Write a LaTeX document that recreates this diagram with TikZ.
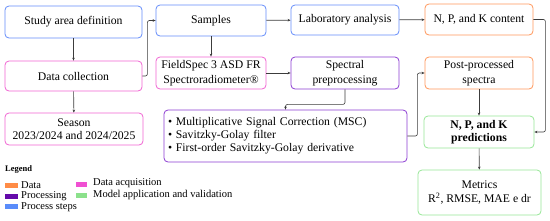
\documentclass[tikz,border=0pt]{standalone}
\usepackage{fontspec}
\setmainfont{Liberation Serif}
\usetikzlibrary{arrows.meta}
\definecolor{cblue}{RGB}{100,140,250}
\definecolor{cpink}{RGB}{240,100,210}
\definecolor{cpurple}{RGB}{140,60,210}
\definecolor{corange}{RGB}{255,150,90}
\definecolor{cgreen}{RGB}{150,230,150}
\definecolor{lorange}{RGB}{255,140,70}
\definecolor{lpurple}{RGB}{100,10,170}
\definecolor{lblue}{RGB}{90,140,250}
\definecolor{lpink}{RGB}{240,80,210}
\definecolor{lgreen}{RGB}{140,225,140}
\definecolor{cline}{RGB}{60,60,60}
\tikzset{
  box/.style={draw, rounded corners=4pt, line width=0.8pt, align=center, inner sep=1pt, font=\fontsize{11.7}{13}\selectfont},
  wide/.style={font=\fontsize{11.7}{15}\selectfont},
  arr/.style={draw=cline, line width=0.6pt, -{Stealth[length=3pt,width=2.6pt]}, rounded corners=2pt},
  legtext/.style={anchor=west, inner sep=0pt, font=\fontsize{10.5}{11}\selectfont},
}
\begin{document}
\begin{tikzpicture}[x=1pt,y=-1pt]
\useasboundingbox (0,0) rectangle (550,220);
% nodes
\node[box, draw=cblue, minimum width=137pt, minimum height=32pt] (study) at (73.5,22) {Study area definition};
\node[box, draw=cpink, minimum width=137pt, minimum height=30pt] (dc) at (73.5,76) {Data collection};
\node[box, draw=cpink, minimum width=138pt, minimum height=32pt] (season) at (74,129) {Season\\2023/2024 and 2024/2025};
\node[box, draw=cblue, minimum width=110pt, minimum height=31pt] (samples) at (211,20.5) {Samples};
\node[box, wide, draw=cpink, minimum width=110pt, minimum height=32pt] (field) at (211,73) {FieldSpec 3 ASD FR\\Spectroradiometer\textregistered};
\node[box, draw=cblue, minimum width=108pt, minimum height=30pt] (lab) at (345,20) {Laboratory analysis};
\node[box, draw=corange, minimum width=108pt, minimum height=31pt] (npk) at (479,19.5) {N, P, and K content};
\node[box, wide, draw=cpurple, minimum width=108pt, minimum height=32pt] (spec) at (345,73) {Spectral\\preprocessing};
\node[box, wide, draw=corange, minimum width=108pt, minimum height=32pt] (post) at (479,73) {Post-processed\\spectra};
\node[box, draw=cpurple, minimum width=243pt, minimum height=52pt, align=left, text width=235pt] (msc) at (285.5,136) {\textbullet\ Multiplicative Signal Correction (MSC)\\\textbullet\ Savitzky-Golay filter\\\textbullet\ First-order Savitzky-Golay derivative};
\node[box, draw=cgreen, minimum width=110pt, minimum height=32pt, font=\fontsize{11.7}{13}\selectfont\bfseries] (pred) at (479,132) {N, P, and K\\predictions};
\node[box, draw=cgreen, minimum width=123pt, minimum height=45pt, font=\fontsize{11.7}{14}\selectfont] (metrics) at (479.5,192.5) {Metrics\\R\textsuperscript{2}, RMSE, MAE e dr};
% connectors
\draw[arr] (study) -- (dc);
\draw[arr] (dc) -- (season);
\draw[arr] (dc.east) -- ++(5,0) |- (samples.west);
\draw[arr] (samples) -- (field);
\draw[arr] (samples) -- (lab);
\draw[arr] (lab) -- (npk);
\draw[arr] (field) -- (spec);
\draw[arr] (spec.south) -- ++(0,15) -| (msc.north);
\draw[arr] (msc.east) -- ++(10,0) |- (post.west);
\draw[arr] (post) -- (pred);
\draw[arr] (npk.east) -- ++(12,0) |- (pred.east);
\draw[arr] (pred) -- (metrics);
% legend
\node[anchor=west, inner sep=0pt, font=\fontsize{8.5}{10}\selectfont\bfseries] (leg) at (5,169) {Legend};
\fill[lorange] (5,182.5) rectangle (18,187.5);
\node[legtext] (l1) at (21,185) {Data};
\fill[lpurple] (5,193.5) rectangle (18,198.5);
\node[legtext] (l2) at (21,196.5) {Processing};
\fill[lblue] (5,204) rectangle (18,209);
\node[legtext] (l3) at (21,207) {Process steps};
\fill[lpink] (76,182) rectangle (87,187);
\node[legtext] (l4) at (93,183.5) {Data acquisition};
\fill[lgreen] (76,192.5) rectangle (87,197.5);
\node[legtext] (l5) at (93,195) {Model application and validation};
\end{tikzpicture}
\end{document}
